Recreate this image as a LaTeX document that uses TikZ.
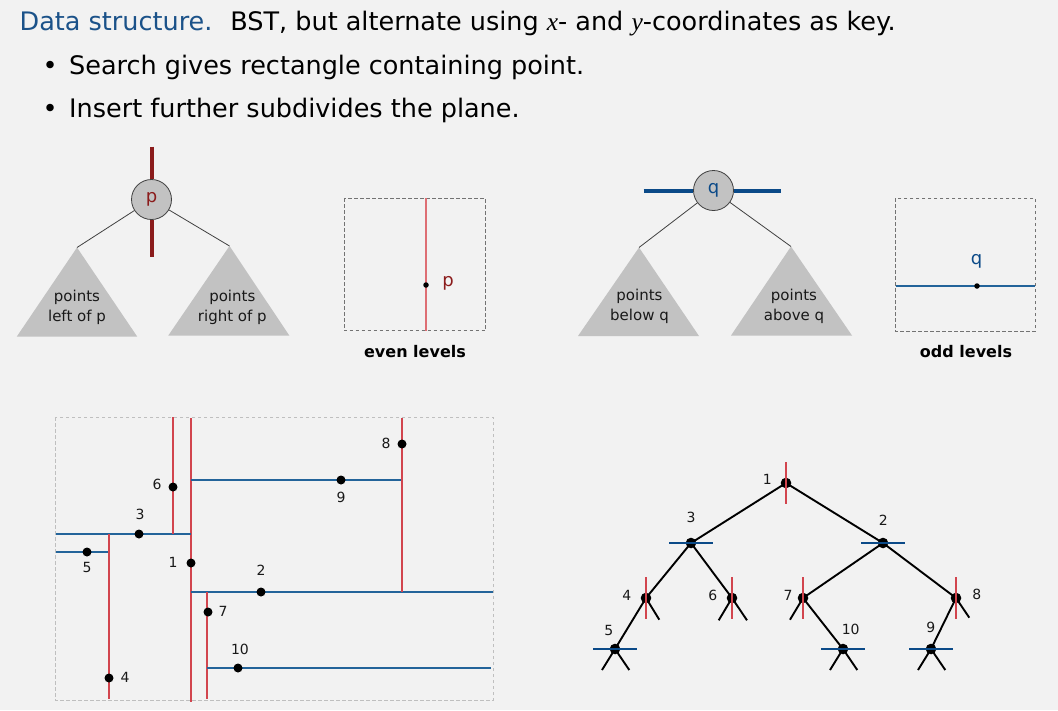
\documentclass[tikz,border=0pt]{standalone}
\usepackage{fontspec}
\setmainfont{DejaVu Sans}
\newfontfamily\seritx{Liberation Serif}
\usetikzlibrary{calc}
\definecolor{bg}{HTML}{F2F2F2}
\definecolor{hblue}{HTML}{1B5289}
\definecolor{pred}{HTML}{8B1C1C}
\definecolor{qblue}{HTML}{0B4A88}
\definecolor{lred}{HTML}{D2454E}
\definecolor{pink}{HTML}{DE6E74}
\definecolor{lblue}{HTML}{23649A}
\definecolor{tri}{HTML}{C2C2C2}
\tikzset{
  fs/.style={font=\fontsize{#1}{#1}\selectfont},
  keynode/.style={circle, draw=black!75, line width=0.8, fill=tri, minimum size=40, inner sep=0, fs=18},
  thinedge/.style={draw=black!75, line width=0.8},
  subtree/.style={fill=tri},
  tritext/.style={align=center, fs=15, text=black!90},
  dbox/.style={draw=black!55, dashed, dash pattern=on 3.5 off 2.5, line width=0.9},
  pbox/.style={draw=black!25, dashed, dash pattern=on 3.5 off 2.5, line width=1},
  vred/.style={draw=lred, line width=1.6},
  hblu/.style={draw=lblue, line width=1.6},
  pdot/.style={circle, fill=black, minimum size=9, inner sep=0},
  tdot/.style={circle, fill=black, minimum size=10.6, inner sep=0},
  numlab/.style={fs=14, text=black!90},
  tedge/.style={draw=black, line width=1.9},
  caption/.style={font=\bfseries\fontsize{16}{16}\selectfont},
  headtext/.style={anchor=base west, inner sep=0, fs=25.5},
}
\begin{document}
\begin{tikzpicture}[x=1pt,y=-1pt]
\fill[bg] (0,0) rectangle (1058,710);
\useasboundingbox (0,0) rectangle (1058,710);

% header
\node[headtext] (title) at (19.5,30)
  {\textcolor{hblue}{Data structure.}\hspace{0.7em}BST, but alternate using {\seritx\itshape x}- and {\seritx\itshape y}-coordinates as key.};
\node[headtext] (b1) at (42.5,74) {•};
\node[headtext] (t1) at (69,74) {Search gives rectangle containing point.};
\node[headtext] (b2) at (42.5,117) {•};
\node[headtext] (t2) at (69,117) {Insert further subdivides the plane.};

% p tree
\node[keynode, text=pred] (p) at (151.5,199.5) {p};
\draw[pred, line width=4] ($(p.center)+(0,-53)$) -- (p.north);
\draw[pred, line width=4] (p.south) -- ($(p.center)+(0,57)$);
\coordinate (pl) at (77,247.5);
\coordinate (pr) at (229.5,246);
\fill[subtree] (pl) -- (16.7,336.7) -- (137.3,336.7) -- cycle;
\fill[subtree] (pr) -- (168.3,335.5) -- (289.3,335.5) -- cycle;
\draw[thinedge] (p) -- (pl);
\draw[thinedge] (p) -- (pr);
\node[tritext] (plt) at (77,307.5) {points\\[5pt]left of p};
\node[tritext] (prt) at (232.3,307.5) {points\\[5pt]right of p};

% even levels
\draw[dbox] (344,198.3) rectangle (485.5,330.7);
\draw[draw=pink, line width=1.6] (426,198.3) -- (426,330.7);
\node[circle, fill=black, minimum size=5.5, inner sep=0] (pe) at (426,285) {};
\node[fs=18, text=pred] (pel) at (448,283) {p};
\node[caption] (even) at (415,351.7) {even levels};

% q tree
\node[keynode, text=qblue] (q) at (713.5,190.5) {q};
\draw[qblue, line width=4] ($(q.center)+(-70,0)$) -- (q.west);
\draw[qblue, line width=4] (q.east) -- ($(q.center)+(67,0)$);
\coordinate (ql) at (639,247.5);
\coordinate (qr) at (791,246.5);
\fill[subtree] (ql) -- (578,336) -- (699,336) -- cycle;
\fill[subtree] (qr) -- (731,335.5) -- (852,335.5) -- cycle;
\draw[thinedge] (q) -- (ql);
\draw[thinedge] (q) -- (qr);
\node[tritext] (qlt) at (639.5,306) {points\\[5pt]below q};
\node[tritext] (qrt) at (794,306) {points\\[5pt]above q};

% odd levels
\draw[dbox] (895,198.3) rectangle (1035.5,331);
\draw[draw=lblue, line width=1.6] (896,286) -- (1034.5,286);
\node[circle, fill=black, minimum size=5.5, inner sep=0] (qe) at (977,286) {};
\node[fs=18, text=qblue] (qel) at (976.7,261) {q};
\node[caption] (odd) at (966,351.7) {odd levels};

% plane subdivision
\draw[pbox] (55,417) rectangle (493,700);
\draw[vred] (191,418) -- (191,701.5);   % 1
\draw[hblu] (56,534) -- (191,534);      % 3
\draw[vred] (173,417) -- (173,534);     % 6
\draw[hblu] (56,552) -- (109,552);      % 5
\draw[vred] (109,534) -- (109,698.5);   % 4
\draw[hblu] (191,592) -- (493,592);     % 2
\draw[hblu] (191,480) -- (402,480);     % 9
\draw[vred] (402,418) -- (402,592);     % 8
\draw[vred] (207,592) -- (207,698.5);   % 7
\draw[hblu] (207,668) -- (491,668);     % 10

\node[pdot] (d1) at (191,563) {};
\node[pdot] (d2) at (261,592) {};
\node[pdot] (d3) at (139,534) {};
\node[pdot] (d4) at (109,678) {};
\node[pdot] (d5) at (87,552) {};
\node[pdot] (d6) at (173,487) {};
\node[pdot] (d7) at (208,612) {};
\node[pdot] (d8) at (402,444) {};
\node[pdot] (d9) at (341,480) {};
\node[pdot] (d10) at (238,668) {};
\node[numlab] (l1) at (173,562) {1};
\node[numlab] (l2) at (261,570) {2};
\node[numlab] (l3) at (140,514) {3};
\node[numlab] (l4) at (125,677) {4};
\node[numlab] (l5) at (87,567) {5};
\node[numlab] (l6) at (157,484) {6};
\node[numlab] (l7) at (223,611) {7};
\node[numlab] (l8) at (386,443) {8};
\node[numlab] (l9) at (341,497) {9};
\node[numlab] (l10) at (240,649) {10};

% 2d tree
\coordinate (n1) at (786,483);
\coordinate (n2) at (883,543);
\coordinate (n3) at (691,543);
\coordinate (n4) at (646,598);
\coordinate (n6) at (732,598);
\coordinate (n7) at (803,598);
\coordinate (n8) at (956,598);
\coordinate (n5) at (615,649);
\coordinate (n10) at (843,649);
\coordinate (n9) at (931,649);
\draw[tedge] (n1) -- (n3);
\draw[tedge] (n1) -- (n2);
\draw[tedge] (n3) -- (n4);
\draw[tedge] (n3) -- (n6);
\draw[tedge] (n2) -- (n7);
\draw[tedge] (n2) -- (n8);
\draw[tedge] (n4) -- (n5);
\draw[tedge] (n7) -- (n10);
\draw[tedge] (n8) -- (n9);
% null links
\draw[tedge] (n4) -- ++(13.3,21.7);
\draw[tedge] (n6) -- ++(-13.3,22.3);
\draw[tedge] (n6) -- ++(15,22.3);
\draw[tedge] (n7) -- ++(-13,21.7);
\draw[tedge] (n8) -- ++(13.3,19.7);
\foreach \n in {n5,n10,n9}{
  \draw[tedge] (\n) -- ++(-13,21);
  \draw[tedge] (\n) -- ++(14.3,21);
}
\foreach \n in {1,2,3,4,5,6,7,8,9,10}{
  \node[tdot] (t\n) at (n\n) {};
}
\foreach \n in {t1,t4,t6,t7,t8}{
  \draw[draw=lred, line width=1.8] ($(\n)+(0,-21)$) -- ($(\n)+(0,21)$);
}
\foreach \n in {t3,t2,t5,t10,t9}{
  \draw[draw=qblue, line width=1.8] ($(\n)+(-22,0)$) -- ($(\n)+(22,0)$);
}
\node[numlab] (m1) at (767.3,479) {1};
\node[numlab] (m2) at (883.3,520.7) {2};
\node[numlab] (m3) at (691,517.3) {3};
\node[numlab] (m4) at (626.7,595.7) {4};
\node[numlab] (m6) at (712.7,595.7) {6};
\node[numlab] (m7) at (788,595.7) {7};
\node[numlab] (m8) at (976.7,594) {8};
\node[numlab] (m5) at (608.7,630) {5};
\node[numlab] (m10) at (850.7,629.3) {10};
\node[numlab] (m9) at (930.7,627.3) {9};
\end{tikzpicture}
\end{document}
